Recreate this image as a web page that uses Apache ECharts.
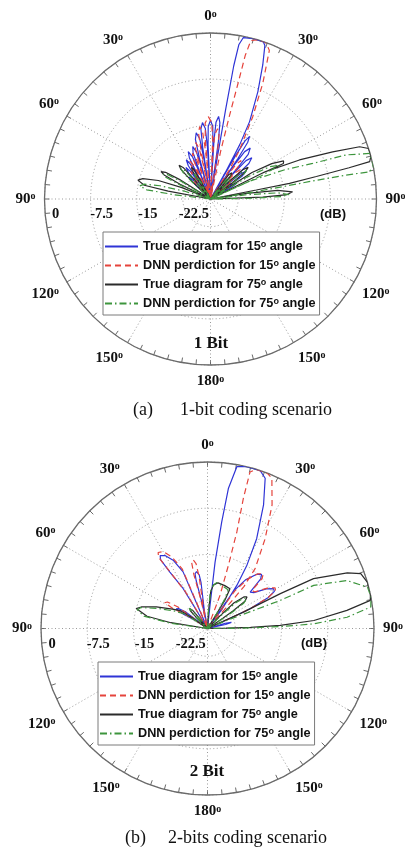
<!DOCTYPE html>
<html>
<head>
<meta charset="utf-8">
<script src="https://cdn.jsdelivr.net/npm/echarts@6/dist/echarts.min.js"></script>
<style>html,body{margin:0;padding:0;background:#fff}#c{width:405px;height:848px}</style>
</head>
<body>
<div id="c"></div>
<script>
// ---- data: [angle (deg, clockwise from broadside), gain (dB)] ----
const seriesNames = [
  'True diagram for 15° angle',
  'DNN perdiction for 15° angle',
  'True diagram for 75° angle',
  'DNN perdiction for 75° angle'
];
const radiusTickLabels = {'0': '0', '7.5': '-7.5', '15': '-15', '22.5': '-22.5'};
const plotTitles = ['1 Bit', '2 Bit'];

// 1-bit coding
const true15_1bit = [
  [-90,-27],[-48,-27],[-47.6,-26],[-46.5,-23],[-44.5,-22],[-42.5,-23],[-41.4,-26],
  [-41,-27],[-40.6,-24.5],[-40,-21.5],[-38,-20.5],[-36,-21.5],[-35.4,-24.5],
  [-35,-27],[-34.6,-23.5],[-33.7,-20.5],[-31.7,-19.5],[-29.8,-20.5],[-28.9,-23.5],
  [-28.5,-27],[-28.1,-22.5],[-27.2,-19.5],[-25.2,-18.5],[-23.2,-19.5],[-22.4,-22.5],
  [-22,-27],[-21.6,-22],[-20.7,-19],[-18.7,-18],[-16.7,-19],[-15.9,-22],
  [-15.5,-27],[-15.1,-20],[-14.2,-17],[-12.2,-16],[-10.2,-17],[-9.4,-20],
  [-9,-27],[-8.6,-18.5],[-7.8,-15.5],[-6,-14.5],[-4.2,-15.5],[-3.4,-18.5],
  [-3,-27],[-2.6,-18.2],[-1.8,-15.2],[0,-14.2],[1.8,-15.2],[2.6,-18.2],
  [3,-27],[3.4,-17.5],[4.1,-14.5],[5.6,-13.5],[7,-14.5],[7.8,-17.5],
  [8.3,-27],[9.3,-20],[9.6,-12],[9.9,-5],[10.4,-1.5],[11.5,-0.2],[15,0],[18.5,0],[19.5,-0.5],
  [21.3,-3.6],[23.8,-7.9],[26.8,-12.9],[28.3,-17],[29.2,-22],
  [29.5,-27],[30,-19],[30.7,-16],[32,-15],[33.3,-16],[34.1,-19],
  [34.5,-27],[34.9,-20.5],[35.8,-17.5],[38,-16.5],[40.2,-17.5],[41.1,-20.5],
  [41.5,-27],[41.9,-21.5],[42.8,-18.5],[45,-17.5],[47.2,-18.5],[48.1,-21.5],
  [48.5,-27],[48.9,-23.7],[49.8,-20.7],[52,-19.7],[54.2,-20.7],[55.1,-23.7],
  [55.5,-27],[55.9,-26],[56.7,-23],[58.7,-22],[60.7,-23],[61.6,-26],
  [62,-27],[90,-27]
];
const dnn15_1bit = [
  [-90,-27],[-46,-27],[-45.6,-26.5],[-44.7,-24],[-42.7,-23],[-40.7,-24],[-39.9,-26.5],
  [-39.5,-27],[-39.1,-25.5],[-38,-22.5],[-35.7,-21.5],[-33.5,-22.5],[-32.4,-25.5],
  [-32,-27],[-31.6,-24],[-30.5,-21],[-28.5,-20],[-26.5,-21],[-25.4,-24],
  [-25,-27],[-24.6,-23],[-23.5,-20],[-21.5,-19],[-19.5,-20],[-18.4,-23],
  [-18,-27],[-17.6,-21.5],[-16.7,-18.5],[-14.7,-17.5],[-12.7,-18.5],[-11.9,-21.5],
  [-11.5,-27],[-11.1,-19.1],[-10.3,-16.1],[-8.5,-15.1],[-6.7,-16.1],[-5.9,-19.1],
  [-5.5,-27],[-5.1,-17.6],[-4,-14.6],[-1.5,-13.6],[1,-14.6],[2.1,-17.6],
  [2.5,-27],[2.9,-19.5],[3.8,-16.5],[5.7,-15.5],[7.6,-16.5],[8.6,-19.5],
  [9,-27],[12,-19],[12.8,-13.3],[13.4,-7.6],[13.6,-3],[14.3,-0.4],[16.5,0],[19.5,0],
  [21.6,-1],[24.3,-6.3],[27.2,-12],[30.6,-17.7],[33,-21.5],
  [35,-27],[35.4,-23],[36.4,-20],[38.5,-19],[40.6,-20],[41.6,-23],
  [42,-27],[42.4,-24],[43.5,-21],[45.7,-20],[47.9,-21],[49.1,-24],
  [49.5,-27],[49.9,-26],[51,-23],[53.2,-22],[55.4,-23],[56.6,-26],
  [57,-27],[90,-27]
];
const true75_1bit = [
  [-90,-27],[-80,-27],[-79.5,-20],[-78.3,-16],[-75.4,-14.8],[-73.2,-15.5],[-70.5,-18],[-68.3,-22],
  [-67,-27],[-64,-21.5],[-62.6,-18.5],[-61,-17.8],[-59.3,-18.5],[-57.8,-21],
  [-56.5,-27],[-46.5,-23],[-45,-20.2],[-43,-19.5],[-41,-20.2],[-39.6,-23],
  [-39,-27],[-33.6,-23.5],[-32.6,-21.5],[-31,-21],[-29.4,-21.5],[-28.5,-23.5],
  [-28,-27],[35.6,-24.5],[37,-22],[39,-21.5],[41,-22],[42.4,-24.5],
  [43,-27],[46.6,-22.5],[48,-19.8],[50,-19],[52,-19.8],[53.4,-22.5],
  [54,-27],[57.5,-19],[60,-15.5],[62.5,-13.6],[64,-13.8],[63.5,-18],
  [62.5,-27],[63.5,-17],[66.3,-11.2],[68.9,-5.7],[70.7,-1.3],[72.3,0],[75,0],[76.8,-0.4],
  [77.3,-3.9],[78,-9.4],[78.8,-13.9],[78.9,-19.4],
  [79.2,-27],[81.2,-21],[82.6,-16],[85,-13.6],[86.7,-14.5],[87.9,-18.5],
  [88.7,-27],[90,-27]
];
const dnn75_1bit = [
  [-90,-27],[-84,-27],[-83.3,-21],[-81.8,-16.5],[-79.5,-15.3],[-77.3,-16],[-75.3,-18.5],[-73.3,-22.5],
  [-72.5,-27],[-65.5,-22],[-64.2,-19],[-62.3,-18.3],[-60.4,-19],[-59,-21.5],
  [-58,-27],[-47.5,-23.5],[-46,-20.8],[-44,-20],[-42,-20.8],[-40.6,-23.5],
  [-40,-27],[-34.6,-24],[-33.6,-22.3],[-32,-22],[-30.4,-22.3],[-29.5,-24],
  [-29,-27],[37.6,-25],[39,-22.7],[41,-22],[43,-22.7],[44.4,-25],
  [45,-27],[48,-23],[49.6,-20.3],[51.5,-19.5],[53.4,-20.3],[55,-23],
  [55.5,-27],[59,-20],[61.5,-16],[64,-14.5],[65.5,-14.5],[65.5,-18],
  [64.5,-27],[65.5,-20],[68.5,-14],[70.8,-9.4],[72,-3.8],[74,-0.1],[77,0],[79,0],[80.3,-0.8],
  [80,-4.6],[80,-10.1],[80.3,-15],[80.8,-20],
  [81,-27],[83.3,-21],[84.8,-16],[86.8,-14.2],[88,-15.5],[89,-20],
  [89.5,-27],[90,-27]
];

// 2-bit coding
const true15_2bit = [
  [-90,-27],[-55,-25],[-59,-22.5],[-58,-21],[-55.5,-21.3],[-53,-22.5],[-53,-25],
  [-40,-27],[-31.4,-19.4],[-33.7,-16],[-34.3,-13.5],[-33,-12.9],[-30.2,-13.3],[-26.7,-14.6],[-23.3,-17],[-23.3,-21.2],
  [-20,-27],[-12,-23],[-13.3,-19],[-12.8,-17.9],[-10.9,-17.6],[-8.8,-18.2],[-8,-19.5],[-10,-24],
  [0,-27],[6.2,-23.3],[6.5,-16.2],[7.6,-9.6],[8.5,-4],[10.3,-0.3],[13.5,0],[18.4,0],[21,-0.9],
  [24.4,-5],[28.7,-10.4],[31.9,-14.9],[34.2,-18.5],[37,-23],
  [38.5,-27],[35,-19.5],[38,-17],[42,-15.2],[45,-14.6],[47,-15.2],[49.5,-17.9],[52.3,-17.5],
  [56,-15.5],[58.9,-14.5],[61,-14.6],[63,-16],[65.1,-19.4],[66,-23],
  [68,-27],[73.5,-24],[75.5,-23],[77.5,-24],
  [79,-27],[90,-27]
];
const dnn15_2bit = [
  [-90,-27],[-56,-24],[-60,-20.5],[-59,-18.9],[-56.5,-19.2],[-54,-21],[-54,-24],
  [-40,-27],[-31,-20],[-33.5,-16],[-34.5,-13],[-33,-12.3],[-30,-12.6],[-26.5,-14],[-23,-16.5],[-22.8,-21],
  [-20,-27],[-13,-22],[-14.2,-18],[-13.5,-16],[-11.8,-15.6],[-10,-16.3],[-9.2,-18.5],[-10.5,-23],
  [0,-27],[20.7,-21.3],[18.3,-16.2],[16.9,-10.6],[15.4,-5.1],[15.2,-0.7],[17,0],[21,0],[23.2,-0.5],
  [27.6,-4.4],[32.7,-9.7],[38.5,-14.6],[41,-18],[42,-23],
  [40,-27],[36,-19.5],[39,-16.8],[42.5,-15],[45.5,-14.3],[47.5,-15],[49.5,-17.5],[52.3,-17.3],
  [56,-15.3],[58.9,-14.2],[61,-14.4],[63,-16],[65,-19.2],[66,-23],
  [68,-27],[90,-27]
];
const true75_2bit = [
  [-90,-27],[-81,-21],[-78.5,-17],[-74.4,-15],[-72,-15.7],[-67,-18],[-61,-20.5],[-56.8,-21.7],[-55,-24],
  [-50,-27],[-45,-24],[-44,-23],[-41.6,-22.7],[-39,-23.3],[-38,-25],
  [0,-27],[3.5,-24],[5,-21],[7.7,-19.9],[13,-19.4],[22,-19.5],[29.5,-19.6],[31.5,-21.5],[32,-24],
  [40,-27],[45,-24],[46,-21],[49,-19.2],[51.4,-18.8],[54,-19.5],[55.5,-22],[56,-24],
  [60,-27],[64.5,-25],[65.5,-20.6],[64.4,-13.9],[64.8,-8],[68.3,-2.6],[70.3,-0.6],[73.9,0],[78,0],
  [80.2,-0.2],[82.6,-4.2],[85.7,-9.7],[87.6,-15.2],[88.5,-20],[89,-24],
  [90,-27]
];
const dnn75_2bit = [
  [-90,-27],[-82,-21],[-79,-16.5],[-75,-15.2],[-72.5,-15.7],[-68,-18.3],[-62,-21],[-58,-22.5],[-56.5,-24.5],
  [-50,-27],[-46,-24.5],[-44.5,-23.2],[-42,-22.6],[-39.5,-23.2],[-38.5,-25],
  [0,-27],[3,-24],[4.5,-21],[7.7,-19.9],[11.6,-19.4],[20,-19.7],[28,-19.9],[30.5,-21.5],[31.5,-24],
  [40,-27],[46.5,-24],[47.5,-21],[50,-19.3],[52.5,-19],[55,-19.8],[56.5,-22],[57,-24],
  [60,-27],[67,-24],[68.5,-20],[68.9,-14.4],[67.9,-8.4],[71,-3.1],[75.5,-0.2],[79.2,0],
  [82.5,-0.3],[85.4,-4.3],[87.5,-9.8],[88.5,-15],[89.2,-20.5],[89.6,-24],
  [90,-27]
];

// ---- chart ----
const SERIF = 'Liberation Serif, Times New Roman, serif';
const SANS = 'Liberation Sans, Arial, sans-serif';
const styles = [
  {color: '#2f34d6', type: 'solid'},
  {color: '#e5443c', type: [6, 4]},
  {color: '#2b2b2b', type: 'solid'},
  {color: '#3d953d', type: [7, 3, 1.5, 3]}
];
const dataSets = [
  [true15_1bit, dnn15_1bit, true75_1bit, dnn75_1bit],
  [true15_2bit, dnn15_2bit, true75_2bit, dnn75_2bit]
];
const toPolar = arr => arr.map(([ang, db]) => [Math.min(27, Math.max(0, -db)), ang]);

function angleAxis(i) {
  return {
    polarIndex: i, type: 'value', min: -90, max: 270, interval: 30,
    startAngle: 180, clockwise: true,
    axisLine: {lineStyle: {color: '#6a6a6a', width: 1.3}},
    axisTick: {show: true, inside: true, length: 5, lineStyle: {color: '#6a6a6a', width: 1}},
    minorTick: {show: true, splitNumber: 6, length: 5, lineStyle: {color: '#6a6a6a', width: 1}},
    splitLine: {show: true, lineStyle: {color: '#9a9a9a', width: 1, type: [1, 2.5]}},
    axisLabel: {
      margin: 9,
      formatter: v => {
        const a = Math.abs(v) <= 180 ? Math.abs(v) : 360 - v;
        return '{n|' + a + '}{s|o}';
      },
      rich: {
        n: {fontFamily: SERIF, fontWeight: 'bold', fontSize: 15, color: '#111'},
        s: {fontFamily: SERIF, fontWeight: 'bold', fontSize: 10, color: '#111', verticalAlign: 'top'}
      }
    }
  };
}
function radiusAxis(i) {
  return {
    polarIndex: i, type: 'value', min: 0, max: 27, interval: 7.5, inverse: true,
    axisLine: {show: false}, axisTick: {show: false},
    splitLine: {show: true, lineStyle: {color: '#9a9a9a', width: 1, type: [1, 2.5]}},
    axisLabel: {
      margin: 8, padding: [0, 0, 0, 22],
      formatter: v => radiusTickLabels[String(v)] || '',
      fontFamily: SERIF, fontWeight: 'bold', fontSize: 14.5, color: '#111'
    }
  };
}
const series = [];
dataSets.forEach((set, pi) => {
  set.forEach((arr, si) => {
    series.push({
      type: 'line', coordinateSystem: 'polar', polarIndex: pi,
      name: seriesNames[si], data: toPolar(arr),
      symbol: 'none', showSymbol: false, smooth: false,
      lineStyle: {color: styles[si].color, width: 1.2, type: styles[si].type},
      itemStyle: {color: styles[si].color},
      z: 3 + si
    });
  });
});
function legend(left, top) {
  return {
    data: seriesNames, orient: 'vertical', left: left, top: top,
    backgroundColor: '#fff', borderColor: '#7a7a7a', borderWidth: 1,
    padding: [8, 4, 5, 1], itemGap: 6, itemWidth: 33, itemHeight: 13,
    selectedMode: false, z: 10,
    itemStyle: {opacity: 0},
    formatter: name => name.replace('°', '{s|o}'),
    textStyle: {
      fontFamily: SANS, fontWeight: 'bold', fontSize: 12.7, color: '#111',
      rich: {s: {fontFamily: SANS, fontWeight: 'bold', fontSize: 9, color: '#111', verticalAlign: 'top'}}
    }
  };
}
const serifCap = {fontFamily: SERIF, fontWeight: 'normal', fontSize: 18, color: '#111'};
const option = {
  animation: false,
  backgroundColor: '#fff',
  polar: [
    {center: [210.5, 199], radius: 166},
    {center: [207.5, 628.5], radius: 166.5}
  ],
  angleAxis: [angleAxis(0), angleAxis(1)],
  radiusAxis: [radiusAxis(0), radiusAxis(1)],
  legend: [legend(103, 232), legend(98, 662)],
  title: [
    {text: plotTitles[0], left: 206, top: 330, textAlign: 'center', textStyle: {fontFamily: SERIF, fontWeight: 'bold', fontSize: 17, color: '#111'}},
    {text: plotTitles[1], left: 202, top: 758, textAlign: 'center', textStyle: {fontFamily: SERIF, fontWeight: 'bold', fontSize: 17, color: '#111'}},
    {text: '(dB)', left: 315, top: 203, textStyle: {fontFamily: SANS, fontWeight: 'bold', fontSize: 13, color: '#111'}},
    {text: '(dB)', left: 296, top: 632, textStyle: {fontFamily: SANS, fontWeight: 'bold', fontSize: 13, color: '#111'}},
    {text: '(a)', left: 128, top: 396, textStyle: serifCap},
    {text: '1-bit coding scenario', left: 175, top: 396, textStyle: serifCap},
    {text: '(b)', left: 120, top: 824, textStyle: serifCap},
    {text: '2-bits coding scenario', left: 163, top: 824, textStyle: serifCap}
  ],
  series: series
};
const chart = echarts.init(document.getElementById('c'), null, {renderer: 'canvas'});
chart.setOption(option);
</script>
</body>
</html>
